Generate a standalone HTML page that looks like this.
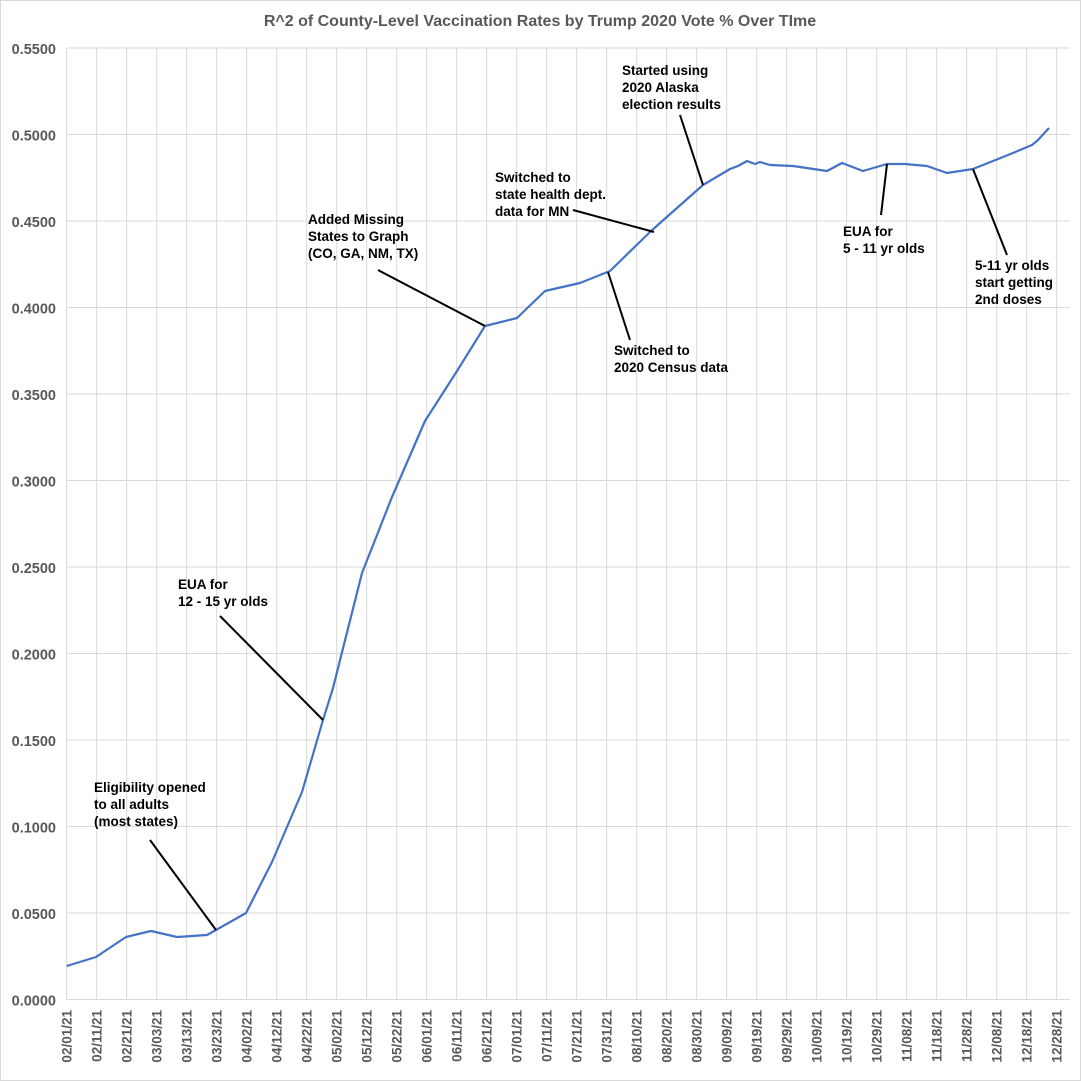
<!DOCTYPE html>
<html><head><meta charset="utf-8"><style>
html,body{margin:0;padding:0;background:#fff}
svg{display:block}
text{font-family:"Liberation Sans",sans-serif}
</style></head><body>
<svg width="1081" height="1081" viewBox="0 0 1081 1081" xmlns="http://www.w3.org/2000/svg">
<rect x="0.5" y="0.5" width="1080" height="1080" fill="#fff" stroke="#d9d9d9"/>
<text x="540" y="26" text-anchor="middle" font-size="16" font-weight="bold" fill="#595959">R^2 of County-Level Vaccination Rates by Trump 2020 Vote % Over TIme</text>
<g stroke="#d9d9d9" stroke-width="1">
<line x1="66.7" y1="48" x2="1070" y2="48"/><line x1="66.7" y1="134.5" x2="1070" y2="134.5"/><line x1="66.7" y1="221" x2="1070" y2="221"/><line x1="66.7" y1="307.5" x2="1070" y2="307.5"/><line x1="66.7" y1="394" x2="1070" y2="394"/><line x1="66.7" y1="480.5" x2="1070" y2="480.5"/><line x1="66.7" y1="567" x2="1070" y2="567"/><line x1="66.7" y1="653.5" x2="1070" y2="653.5"/><line x1="66.7" y1="740" x2="1070" y2="740"/><line x1="66.7" y1="826.5" x2="1070" y2="826.5"/><line x1="66.7" y1="913" x2="1070" y2="913"/><line x1="66.7" y1="999.5" x2="1070" y2="999.5"/>
<path d="M66.7 48V1000M96.7 48V1000M126.7 48V1000M156.7 48V1000M186.7 48V1000M216.7 48V1000M246.7 48V1000M276.7 48V1000M306.7 48V1000M336.7 48V1000M366.7 48V1000M396.7 48V1000M426.7 48V1000M456.7 48V1000M486.7 48V1000M516.7 48V1000M546.7 48V1000M576.7 48V1000M606.7 48V1000M636.7 48V1000M666.7 48V1000M696.7 48V1000M726.7 48V1000M756.7 48V1000M786.7 48V1000M816.7 48V1000M846.7 48V1000M876.7 48V1000M906.7 48V1000M936.7 48V1000M966.7 48V1000M996.7 48V1000M1026.7 48V1000M1056.7 48V1000"/>
</g>
<g font-size="14.5" font-weight="bold" fill="#595959" text-anchor="end">
<text x="56" y="54">0.5500</text><text x="56" y="140.5">0.5000</text><text x="56" y="227">0.4500</text><text x="56" y="313.5">0.4000</text><text x="56" y="400">0.3500</text><text x="56" y="486.5">0.3000</text><text x="56" y="573">0.2500</text><text x="56" y="659.5">0.2000</text><text x="56" y="746">0.1500</text><text x="56" y="832.5">0.1000</text><text x="56" y="919">0.0500</text><text x="56" y="1005.5">0.0000</text>
</g>
<g font-size="13.5" font-weight="bold" fill="#595959" text-anchor="end">
<text transform="translate(71.7,1010) rotate(-90)">02/01/21</text><text transform="translate(101.7,1010) rotate(-90)">02/11/21</text><text transform="translate(131.7,1010) rotate(-90)">02/21/21</text><text transform="translate(161.7,1010) rotate(-90)">03/03/21</text><text transform="translate(191.7,1010) rotate(-90)">03/13/21</text><text transform="translate(221.7,1010) rotate(-90)">03/23/21</text><text transform="translate(251.7,1010) rotate(-90)">04/02/21</text><text transform="translate(281.7,1010) rotate(-90)">04/12/21</text><text transform="translate(311.7,1010) rotate(-90)">04/22/21</text><text transform="translate(341.7,1010) rotate(-90)">05/02/21</text><text transform="translate(371.7,1010) rotate(-90)">05/12/21</text><text transform="translate(401.7,1010) rotate(-90)">05/22/21</text><text transform="translate(431.7,1010) rotate(-90)">06/01/21</text><text transform="translate(461.7,1010) rotate(-90)">06/11/21</text><text transform="translate(491.7,1010) rotate(-90)">06/21/21</text><text transform="translate(521.7,1010) rotate(-90)">07/01/21</text><text transform="translate(551.7,1010) rotate(-90)">07/11/21</text><text transform="translate(581.7,1010) rotate(-90)">07/21/21</text><text transform="translate(611.7,1010) rotate(-90)">07/31/21</text><text transform="translate(641.7,1010) rotate(-90)">08/10/21</text><text transform="translate(671.7,1010) rotate(-90)">08/20/21</text><text transform="translate(701.7,1010) rotate(-90)">08/30/21</text><text transform="translate(731.7,1010) rotate(-90)">09/09/21</text><text transform="translate(761.7,1010) rotate(-90)">09/19/21</text><text transform="translate(791.7,1010) rotate(-90)">09/29/21</text><text transform="translate(821.7,1010) rotate(-90)">10/09/21</text><text transform="translate(851.7,1010) rotate(-90)">10/19/21</text><text transform="translate(881.7,1010) rotate(-90)">10/29/21</text><text transform="translate(911.7,1010) rotate(-90)">11/08/21</text><text transform="translate(941.7,1010) rotate(-90)">11/18/21</text><text transform="translate(971.7,1010) rotate(-90)">11/28/21</text><text transform="translate(1001.7,1010) rotate(-90)">12/08/21</text><text transform="translate(1031.7,1010) rotate(-90)">12/18/21</text><text transform="translate(1061.7,1010) rotate(-90)">12/28/21</text>
</g>
<polyline fill="none" stroke="#4472c4" stroke-width="2.2" stroke-linejoin="round" points="66.7,966 96,957 126,937 151,931 177,937 207,935 216,930 246,913 272,862 302,792 323,720 333,688 362,573 392,497 425,421 457,371 485,326 517,318 545,291 580,283 610,271 650,232 660,223 703,185 730,169 738,166 747,161 755,164 760,162 770,165 793,166 800,167 827,171 842,163 863,171 887,164 905,164 927,166 947,173 973,169 993,161 1013,153 1032,145 1038,140 1049,128"/>
<g stroke="#000" stroke-width="2">
<line x1="150" y1="840" x2="216" y2="930"/>
<line x1="220" y1="616" x2="323" y2="720"/>
<line x1="378" y1="270" x2="485" y2="326"/>
<line x1="630" y1="340" x2="608" y2="272"/>
<line x1="573" y1="210" x2="654" y2="232"/>
<line x1="680" y1="115" x2="703" y2="185"/>
<line x1="881" y1="215" x2="887" y2="164"/>
<line x1="1007" y1="255" x2="973" y2="169"/>
</g>
<g font-size="13.5" font-weight="bold" fill="#000">
<text x="94" y="792">Eligibility opened</text><text x="94" y="809">to all adults</text><text x="94" y="826">(most states)</text>
<text x="178" y="589">EUA for</text><text x="178" y="606">12 - 15 yr olds</text>
<text x="308" y="224">Added Missing</text><text x="308" y="241">States to Graph</text><text x="308" y="258">(CO, GA, NM, TX)</text>
<text x="614" y="355">Switched to</text><text x="614" y="372">2020 Census data</text>
<text x="495" y="182">Switched to</text><text x="495" y="199">state health dept.</text><text x="495" y="216">data for MN</text>
<text x="622" y="75">Started using</text><text x="622" y="92">2020 Alaska</text><text x="622" y="109">election results</text>
<text x="843" y="236">EUA for</text><text x="843" y="253">5 - 11 yr olds</text>
<text x="975" y="270">5-11 yr olds</text><text x="975" y="287">start getting</text><text x="975" y="304">2nd doses</text>
</g>
</svg>
</body></html>
